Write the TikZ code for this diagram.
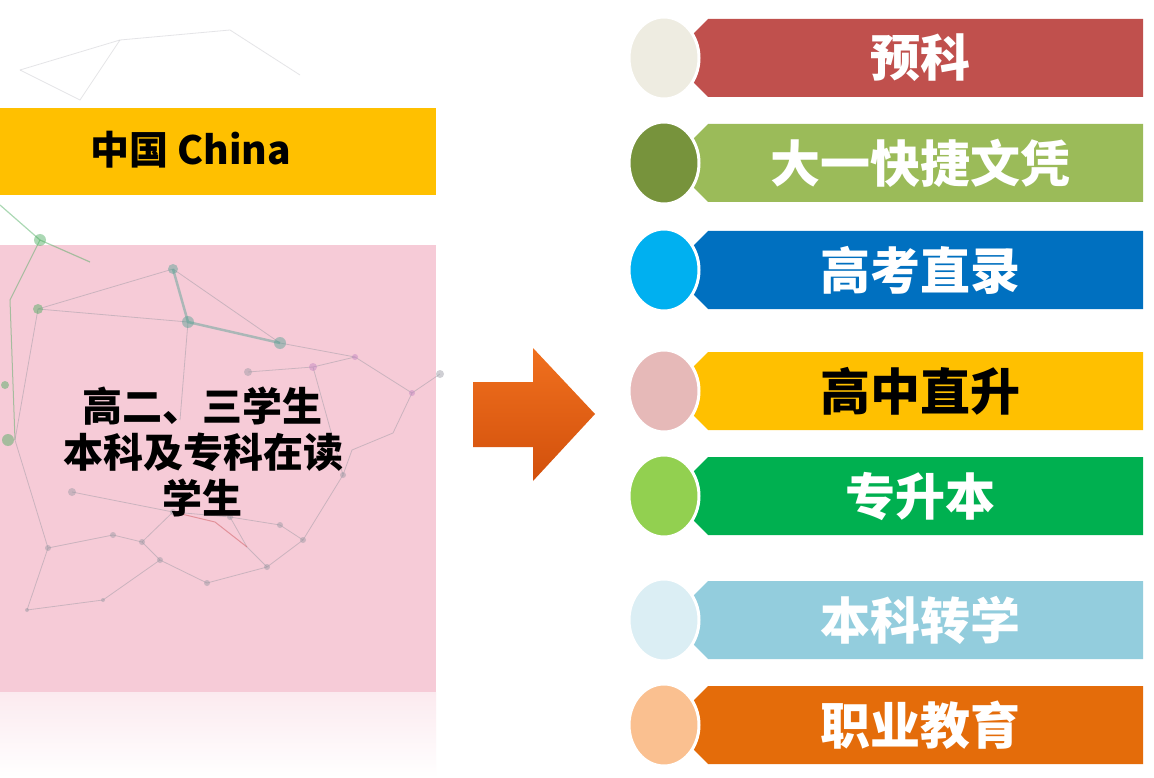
\documentclass[tikz,border=0pt]{standalone}
\usepackage{fontspec}
\newfontfamily\cjk{Noto Sans CJK SC}
\usetikzlibrary{shapes.geometric,shapes.misc}
\definecolor{goldbar}{RGB}{255,192,0}
\definecolor{pinkbox}{RGB}{246,203,215}
\definecolor{arrowtop}{RGB}{240,112,30}
\definecolor{arrowbot}{RGB}{210,80,12}
\definecolor{netgray}{RGB}{150,150,160}
\definecolor{netteal}{RGB}{80,160,145}
\definecolor{netgreen}{RGB}{70,170,90}
\tikzset{
  band/.style     = {chamfered rectangle,
                     chamfered rectangle corners={north west,south west},
                     chamfered rectangle sep=8pt,
                     minimum width=451pt, minimum height=78pt, inner sep=0pt,
                     text=white, font=\cjk\bfseries\fontsize{50}{50}\selectfont},
  bead/.style     = {ellipse, draw=white, line width=3pt,
                     minimum width=70pt, minimum height=82pt, inner sep=0pt},
  netline/.style  = {netgray, line width=0.8pt},
  netdot/.style   = {fill=netgray}
}

\begin{document}
\begin{tikzpicture}[x=1pt,y=-1pt]
  \fill[white] (0,0) rectangle (1154,778);
  \useasboundingbox (0,0) rectangle (1154,778);

  % left side
  \node [fill=goldbar, minimum width=436pt, minimum height=87pt,
         inner sep=0pt, anchor=north west] (chinabar) at (0,108) {};
  \node [font=\cjk\bfseries\fontsize{39}{39}\selectfont] (china) at (191,150) {中国 China};

  \node [fill=pinkbox, minimum width=436pt, minimum height=447pt,
         inner sep=0pt, anchor=north west] (studentbox) at (0,245) {};
  \shade [top color=pinkbox!40, bottom color=white] (0,692) rectangle (436,778);

  % faint network in the background
  \begin{scope}[opacity=0.45]
    \draw[netline, opacity=0.25] (20,70) -- (120,40) -- (230,30) -- (300,75);
    \draw[netline, opacity=0.25] (120,40) -- (80,100) -- (20,70);
    \draw[netgreen, line width=1.2pt] (0,205) -- (40,240) -- (90,262);
    \draw[netgreen, line width=1pt] (40,240) -- (10,300) -- (15,440);
    \draw[netteal, line width=2.5pt] (173,269) -- (188,322) -- (280,343);
    \draw[netline] (173,269) -- (280,343);
    \draw[netline] (38,309) -- (173,269);
    \draw[netline] (38,309) -- (188,322) -- (180,420);
    \draw[netline] (280,343) -- (355,357) -- (412,393) -- (440,374);
    \draw[netline] (248,372) -- (313,367) -- (355,357);
    \draw[netline] (313,367) -- (343,475) -- (352,450) -- (393,433) -- (412,393);
    \draw[netline] (38,309) -- (15,440) -- (48,548) -- (113,535) -- (142,542)
                   -- (173,512) -- (230,517) -- (280,525) -- (303,540);
    \draw[netline] (72,492) -- (173,512);
    \draw[netline] (142,542) -- (160,560) -- (207,583) -- (267,567) -- (303,540) -- (343,475);
    \draw[netline] (48,548) -- (27,610) -- (103,600) -- (160,560);
    \draw[netline] (230,517) -- (247,547) -- (267,567);
    \draw[red!50!netgray, line width=1pt] (173,512) -- (215,522) -- (247,547);
    \fill[netteal] (173,269) circle (5) (188,322) circle (6) (280,343) circle (6);
    \fill[netgreen] (38,309) circle (5) (8,440) circle (6) (40,240) circle (6) (5,385) circle (4);
    \fill[violet!50] (313,367) circle (4) (355,357) circle (3) (412,393) circle (3);
    \fill[netdot] (248,372) circle (4) (48,548) circle (3) (113,535) circle (3)
                  (142,542) circle (3) (72,492) circle (4) (173,512) circle (3)
                  (230,517) circle (3) (280,525) circle (3) (303,540) circle (3)
                  (160,560) circle (3) (207,583) circle (3) (267,567) circle (3)
                  (27,610) circle (2) (103,600) circle (2) (343,475) circle (3)
                  (440,374) circle (4);
  \end{scope}

  \node [align=center, font=\cjk\bfseries\fontsize{40}{46}\selectfont]
        (students) at (203,452) {高二、三学生\\本科及专科在读\\学生};

  % arrow
  \shade [top color=arrowtop, bottom color=arrowbot]
    (473,382) -- (533,382) -- (533,348) -- (595,414)
    -- (533,481) -- (533,447) -- (473,447) -- cycle;

  % options on the right
  \node [band, fill={rgb,255:red,192;green,80;blue,77}]  (yuke)       at (917.5,58)  {\hspace{6pt}预科};
  \node [band, fill={rgb,255:red,155;green,187;blue,89}] (dayi)       at (917.5,163) {\hspace{6pt}大一快捷文凭};
  \node [band, fill={rgb,255:red,0;green,112;blue,192}]  (gaokao)     at (917.5,270) {\hspace{6pt}高考直录};
  \node [band, fill=goldbar, text=black]                (gaozhong)   at (917.5,391) {\hspace{6pt}高中直升};
  \node [band, fill={rgb,255:red,0;green,176;blue,80}]   (zhuansheng) at (917.5,496) {\hspace{6pt}专升本};
  \node [band, fill={rgb,255:red,147;green,205;blue,221}] (zhuanxue)  at (917.5,620) {\hspace{6pt}本科转学};
  \node [band, fill={rgb,255:red,228;green,108;blue,10}] (zhiye)      at (917.5,725) {\hspace{6pt}职业教育};

  \node [bead, fill={rgb,255:red,238;green,236;blue,225}] (yukedot)       at (664,58)  {};
  \node [bead, fill={rgb,255:red,119;green,147;blue,60}]  (dayidot)       at (664,163) {};
  \node [bead, fill={rgb,255:red,0;green,176;blue,240}]   (gaokaodot)     at (664,270) {};
  \node [bead, fill={rgb,255:red,230;green,185;blue,184}] (gaozhongdot)   at (664,391) {};
  \node [bead, fill={rgb,255:red,146;green,208;blue,80}]  (zhuanshengdot) at (664,496) {};
  \node [bead, fill={rgb,255:red,219;green,238;blue,244}] (zhuanxuedot)   at (664,620) {};
  \node [bead, fill={rgb,255:red,250;green,192;blue,144}] (zhiyedot)      at (664,725) {};
\end{tikzpicture}
\end{document}
